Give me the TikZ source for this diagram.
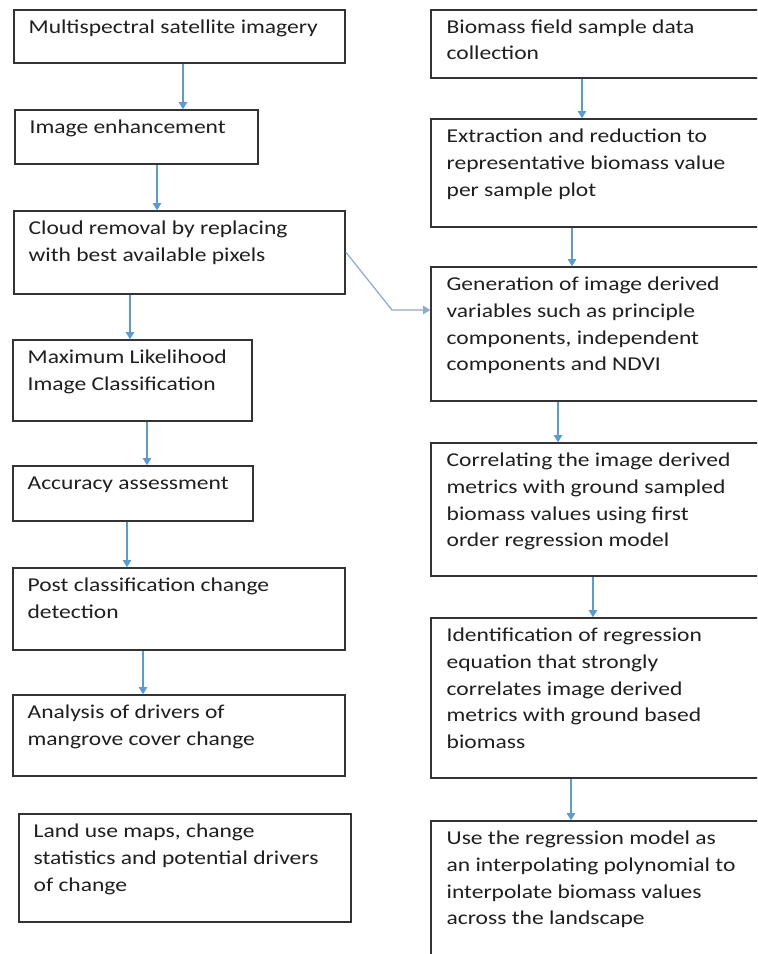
\documentclass[tikz,border=0pt]{standalone}
\usepackage{fontspec}
\setmainfont{Carlito}[FakeStretch=1.2]
\usetikzlibrary{arrows.meta,fit}
\definecolor{boxline}{HTML}{333333}
\definecolor{arrblue}{HTML}{5B9BD5}
\definecolor{diagline}{HTML}{8FA9C6}
\begin{document}
\begin{tikzpicture}[x=0.5pt,y=-0.5pt,
  box/.style={draw=boxline,line width=0.75pt,inner sep=0pt,rectangle},
  txt/.style={anchor=north west,inner sep=0pt,align=left,
    font=\fontsize{9.8pt}{13.35pt}\selectfont,text=black!88},
  arr/.style={draw=arrblue,line width=0.7pt,-{Triangle[width=4.2pt,length=3.6pt]}},
  diag/.style={draw=diagline,line width=0.6pt,-{Triangle[width=4.2pt,length=3.6pt]}}]
\useasboundingbox (0,0) rectangle (757,954);
\clip (0,0) rectangle (757,954);
\fill[white] (0,0) rectangle (757,954);

% left column boxes
\node[box,fit={(14,10) (345,63)}] (b1) {};
\node[box,fit={(15,110) (258,164)}] (b2) {};
\node[box,fit={(14,211) (345,294)}] (b3) {};
\node[box,fit={(13,340) (252,421)}] (b4) {};
\node[box,fit={(13,466) (253,521)}] (b5) {};
\node[box,fit={(13,568) (345,650)}] (b6) {};
\node[box,fit={(13,695) (345,776)}] (b7) {};
\node[box,fit={(19,814) (351,922)}] (b8) {};

% right column boxes
\node[box,fit={(431,10) (775,78)}] (r1) {};
\node[box,fit={(431,119) (775,227)}] (r2) {};
\node[box,fit={(431,267) (775,401)}] (r3) {};
\node[box,fit={(431,443) (775,576)}] (r4) {};
\node[box,fit={(431,618) (775,778)}] (r5) {};
\node[box,fit={(431,821) (775,990)}] (r6) {};

% texts
\node[txt] (t1) at ([xshift=7.5pt,yshift=-2.7pt]b1.north west) {\strut Multispectral satellite imagery};
\node[txt] (t2) at ([xshift=7.5pt,yshift=-2.7pt]b2.north west) {\strut Image enhancement};
\node[txt] (t3) at ([xshift=7.5pt,yshift=-2.7pt]b3.north west) {\strut Cloud removal by replacing\\with best available pixels};
\node[txt] (t4) at ([xshift=7.5pt,yshift=-2.7pt]b4.north west) {\strut Maximum Likelihood\\Image Classification};
\node[txt] (t5) at ([xshift=7.5pt,yshift=-2.7pt]b5.north west) {\strut Accuracy assessment};
\node[txt] (t6) at ([xshift=7.5pt,yshift=-2.7pt]b6.north west) {\strut Post classification change\\detection};
\node[txt] (t7) at ([xshift=7.5pt,yshift=-2.7pt]b7.north west) {\strut Analysis of drivers of\\mangrove cover change};
\node[txt] (t8) at ([xshift=7.5pt,yshift=-2.7pt]b8.north west) {\strut Land use maps, change\\statistics and potential drivers\\of change};

\node[txt] (u1) at ([xshift=8pt,yshift=-2.4pt]r1.north west) {\strut Biomass field sample data\\collection};
\node[txt] (u2) at ([xshift=8pt,yshift=-2.7pt]r2.north west) {\strut Extraction and reduction to\\representative biomass value\\per sample plot};
\node[txt] (u3) at ([xshift=8pt,yshift=-2.7pt]r3.north west) {\strut Generation of image derived\\variables such as principle\\components, independent\\components and NDVI};
\node[txt] (u4) at ([xshift=8pt,yshift=-2.7pt]r4.north west) {\strut Correlating the image derived\\metrics with ground sampled\\biomass values using first\\order regression model};
\node[txt] (u5) at ([xshift=8pt,yshift=-2.7pt]r5.north west) {\strut Identification of regression\\equation that strongly\\correlates image derived\\metrics with ground based\\biomass};
\node[txt] (u6) at ([xshift=8pt,yshift=-2.7pt]r6.north west) {\strut Use the regression model as\\an interpolating polynomial to\\interpolate biomass values\\across the landscape};

% arrow x positions
\coordinate (xa) at (183,0);
\coordinate (xb) at (157,0);
\coordinate (xc) at (130,0);
\coordinate (xd) at (147,0);
\coordinate (xe) at (127,0);
\coordinate (xf) at (143,0);
\coordinate (xg) at (582,0);
\coordinate (xh) at (572,0);
\coordinate (xi) at (558,0);
\coordinate (xj) at (593,0);
\coordinate (xk) at (571,0);

\draw[arr] (b1.south -| xa) -- (b2.north -| xa);
\draw[arr] (b2.south -| xb) -- (b3.north -| xb);
\draw[arr] (b3.south -| xc) -- (b4.north -| xc);
\draw[arr] (b4.south -| xd) -- (b5.north -| xd);
\draw[arr] (b5.south -| xe) -- (b6.north -| xe);
\draw[arr] (b6.south -| xf) -- (b7.north -| xf);

\draw[arr] (r1.south -| xg) -- (r2.north -| xg);
\draw[arr] (r2.south -| xh) -- (r3.north -| xh);
\draw[arr] (r3.south -| xi) -- (r4.north -| xi);
\draw[arr] (r4.south -| xj) -- (r5.north -| xj);
\draw[arr] (r5.south -| xk) -- (r6.north -| xk);

% diagonal connector
\coordinate (ds) at (345,252);
\coordinate (dk) at (392,310);
\draw[diag] (b3.east |- ds) -- (dk) -- (r3.west |- dk);
\end{tikzpicture}
\end{document}
